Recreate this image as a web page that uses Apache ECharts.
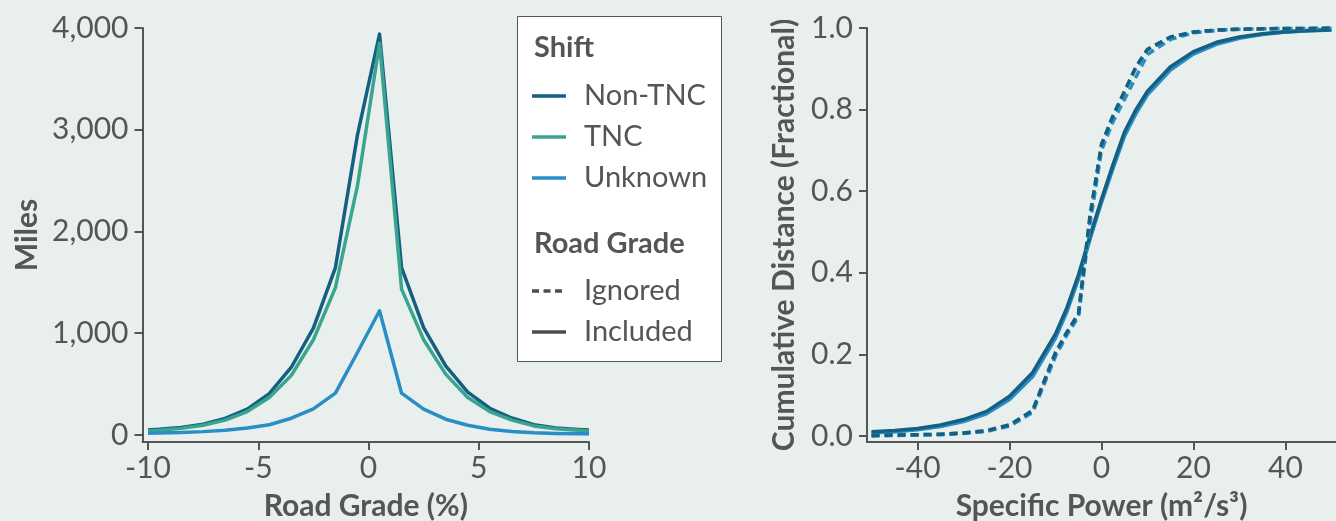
<!DOCTYPE html>
<html>
<head>
<meta charset="utf-8">
<script src="https://cdn.jsdelivr.net/npm/echarts@6/dist/echarts.min.js"></script>
<style>
  html, body { margin: 0; padding: 0; background: #e9efed; }
  #chart { width: 1336px; height: 521px; }
</style>
</head>
<body>
<div id="chart"></div>
<script>
// ---- Left panel: miles by road grade ----
const gradeX = [-10, -9.5, -8.5, -7.5, -6.5, -5.5, -4.5, -3.5, -2.5, -1.5, -0.5, 0.5, 1.5, 2.5, 3.5, 4.5, 5.5, 6.5, 7.5, 8.5, 9.5, 10];
const milesNonTNC = [49, 55, 72, 105, 162, 253, 405, 665, 1050, 1645, 2950, 3940, 1645, 1055, 678, 420, 262, 166, 100, 68, 54, 49];
const milesTNC    = [39, 45, 64, 95, 145, 229, 367, 585, 935, 1448, 2450, 3850, 1433, 935, 597, 367, 229, 145, 88, 60, 45, 39];
const milesUnknown= [15, 18, 24, 32, 46, 68, 100, 164, 255, 410, 810, 1220, 410, 253, 154, 95, 56, 34, 20, 14, 12, 12];
const gradeTicks = [-10, -5, 0, 5, 10];
const milesTicks = [0, 1000, 2000, 3000, 4000];

// ---- Right panel: cumulative distance by specific power ----
const powerX = [-50, -45, -40, -35, -30, -25, -20, -15, -10, -7.5, -5, -2.5, 0, 2.5, 5, 7.5, 10, 15, 20, 25, 30, 35, 40, 45, 50];
const inclNonTNC = [0.010, 0.013, 0.018, 0.027, 0.040, 0.060, 0.097, 0.155, 0.250, 0.315, 0.395, 0.490, 0.580, 0.665, 0.745, 0.800, 0.845, 0.905, 0.942, 0.965, 0.978, 0.986, 0.991, 0.994, 0.996];
const inclTNC    = [0.008, 0.011, 0.016, 0.024, 0.037, 0.056, 0.092, 0.148, 0.243, 0.308, 0.388, 0.485, 0.578, 0.662, 0.742, 0.798, 0.843, 0.903, 0.940, 0.963, 0.977, 0.985, 0.990, 0.993, 0.995];
const inclUnknown= [0.007, 0.010, 0.015, 0.023, 0.035, 0.054, 0.089, 0.145, 0.240, 0.305, 0.385, 0.482, 0.572, 0.655, 0.735, 0.790, 0.836, 0.897, 0.936, 0.960, 0.975, 0.984, 0.990, 0.993, 0.995];
const ignNonTNC  = [0.001, 0.002, 0.003, 0.004, 0.007, 0.013, 0.027, 0.062, 0.205, 0.255, 0.300, 0.540, 0.715, 0.785, 0.845, 0.905, 0.948, 0.978, 0.990, 0.995, 0.997, 0.998, 0.999, 0.999, 1.000];
const ignTNC     = [0.001, 0.002, 0.003, 0.004, 0.007, 0.013, 0.026, 0.060, 0.200, 0.252, 0.298, 0.535, 0.712, 0.783, 0.843, 0.903, 0.946, 0.977, 0.990, 0.995, 0.997, 0.998, 0.999, 0.999, 1.000];
const ignUnknown = [0.000, 0.001, 0.002, 0.003, 0.006, 0.011, 0.024, 0.057, 0.195, 0.248, 0.292, 0.520, 0.700, 0.770, 0.825, 0.880, 0.935, 0.972, 0.988, 0.994, 0.997, 0.998, 0.999, 0.999, 1.000];
const powerTicks = [-40, -20, 0, 20, 40];
const fracTicks = [0, 0.2, 0.4, 0.6, 0.8, 1.0];

const shiftNames = ['Non-TNC', 'TNC', 'Unknown'];
const gradeNames = ['Ignored', 'Included'];

const C_NON = '#155f82';
const C_TNC = '#3aa58f';
const C_UNK = '#2a8ec6';
const AX = '#555555';
const TXT = '#555555';
const FONT = 'Lato';
const TICK_FS = 30;
const TITLE_FS = 30;

function pairs(xs, ys) { return xs.map((x, i) => [x, ys[i]]); }

function xAxisBase(gridIndex, min, max, ticks, name, fmt) {
  return {
    type: 'value', gridIndex, min, max,
    name, nameLocation: 'middle', nameGap: 49,
    nameTextStyle: { fontFamily: FONT, fontWeight: 'bold', fontSize: TITLE_FS, color: TXT },
    axisLine: { show: true, onZero: false, lineStyle: { color: AX, width: 2 } },
    axisTick: { show: true, length: 8, customValues: ticks, lineStyle: { color: AX, width: 2 } },
    axisLabel: { customValues: ticks, fontFamily: FONT, fontSize: TICK_FS, color: TXT, margin: 11, formatter: fmt },
    splitLine: { show: false }
  };
}
function yAxisBase(gridIndex, min, max, ticks, name, fmt, gap) {
  return {
    type: 'value', gridIndex, min, max,
    name, nameLocation: 'middle', nameGap: gap, nameRotate: 90,
    nameTextStyle: { fontFamily: FONT, fontWeight: 'bold', fontSize: TITLE_FS, color: TXT },
    axisLine: { show: true, onZero: false, lineStyle: { color: AX, width: 2 } },
    axisTick: { show: true, length: 8, customValues: ticks, lineStyle: { color: AX, width: 2 } },
    axisLabel: { customValues: ticks, fontFamily: FONT, fontSize: TICK_FS, color: TXT, margin: 14, formatter: fmt },
    splitLine: { show: false }
  };
}

function line(name, xi, data, color, dashed, z) {
  return {
    name, type: 'line', xAxisIndex: xi, yAxisIndex: xi, data,
    showSymbol: false, symbol: 'none', silent: true, z: z || 2,
    lineStyle: { color, width: 3.5, type: dashed ? [8, 5] : 'solid', cap: 'butt', join: 'round' },
    animation: false
  };
}

const legendX = 532, legendTextX = 584;
function legendLine(y, color, dashed) {
  return {
    type: 'line', z: 11, shape: { x1: legendX, y1: y, x2: legendX + 34, y2: y },
    style: { stroke: color, lineWidth: 3.5, lineDash: dashed ? [7, 4.5] : null }
  };
}
function legendText(y, text, bold) {
  return {
    type: 'text', z: 11, x: bold ? 534 : legendTextX, y,
    style: { text, fontFamily: FONT, fontSize: 29, fontWeight: bold ? 'bold' : 'normal', fill: TXT, verticalAlign: 'middle', textAlign: 'left' }
  };
}

const option = {
  backgroundColor: '#e9efed',
  animation: false,
  grid: [
    { left: 142.5, right: 747, top: 28, bottom: 79, containLabel: false, outerBoundsMode: 'none' },
    { left: 867, right: 0, top: 28, bottom: 79, containLabel: false, outerBoundsMode: 'none' }
  ],
  xAxis: [
    xAxisBase(0, -10.25, 10, gradeTicks, 'Road Grade (%)', v => String(v)),
    xAxisBase(1, -51, 51, powerTicks, 'Specific Power (m²/s³)', v => String(v))
  ],
  yAxis: [
    yAxisBase(0, -70, 4000, milesTicks, 'Miles', v => v.toLocaleString('en-US'), 100),
    yAxisBase(1, -0.015, 1.0, fracTicks, 'Cumulative Distance (Fractional)', v => v.toFixed(1), 68)
  ],
  series: [
    line(shiftNames[0], 0, pairs(gradeX, milesNonTNC), C_NON, false, 2),
    line(shiftNames[1], 0, pairs(gradeX, milesTNC), C_TNC, false, 3),
    line(shiftNames[2], 0, pairs(gradeX, milesUnknown), C_UNK, false, 4),

    line(shiftNames[1] + ' ' + gradeNames[1], 1, pairs(powerX, inclTNC), C_TNC, false, 2),
    line(shiftNames[2] + ' ' + gradeNames[1], 1, pairs(powerX, inclUnknown), C_UNK, false, 3),
    line(shiftNames[0] + ' ' + gradeNames[1], 1, pairs(powerX, inclNonTNC), C_NON, false, 4),
    line(shiftNames[1] + ' ' + gradeNames[0], 1, pairs(powerX, ignTNC), C_TNC, true, 5),
    line(shiftNames[2] + ' ' + gradeNames[0], 1, pairs(powerX, ignUnknown), C_UNK, true, 6),
    line(shiftNames[0] + ' ' + gradeNames[0], 1, pairs(powerX, ignNonTNC), C_NON, true, 7)
  ],
  graphic: [
    { type: 'rect', z: 10, shape: { x: 517.5, y: 16.5, width: 204, height: 345 }, style: { fill: '#ffffff', stroke: '#555555', lineWidth: 1 } },
    legendText(48, 'Shift', true),
    legendLine(96, C_NON, false),
    legendText(96, shiftNames[0], false),
    legendLine(137, C_TNC, false),
    legendText(137, shiftNames[1], false),
    legendLine(178, C_UNK, false),
    legendText(178, shiftNames[2], false),
    legendText(244, 'Road Grade', true),
    legendLine(291, '#4d4d4d', true),
    legendText(291, gradeNames[0], false),
    legendLine(332, '#4d4d4d', false),
    legendText(332, gradeNames[1], false)
  ]
};

const chart = echarts.init(document.getElementById('chart'));
chart.setOption(option);
</script>
</body>
</html>
